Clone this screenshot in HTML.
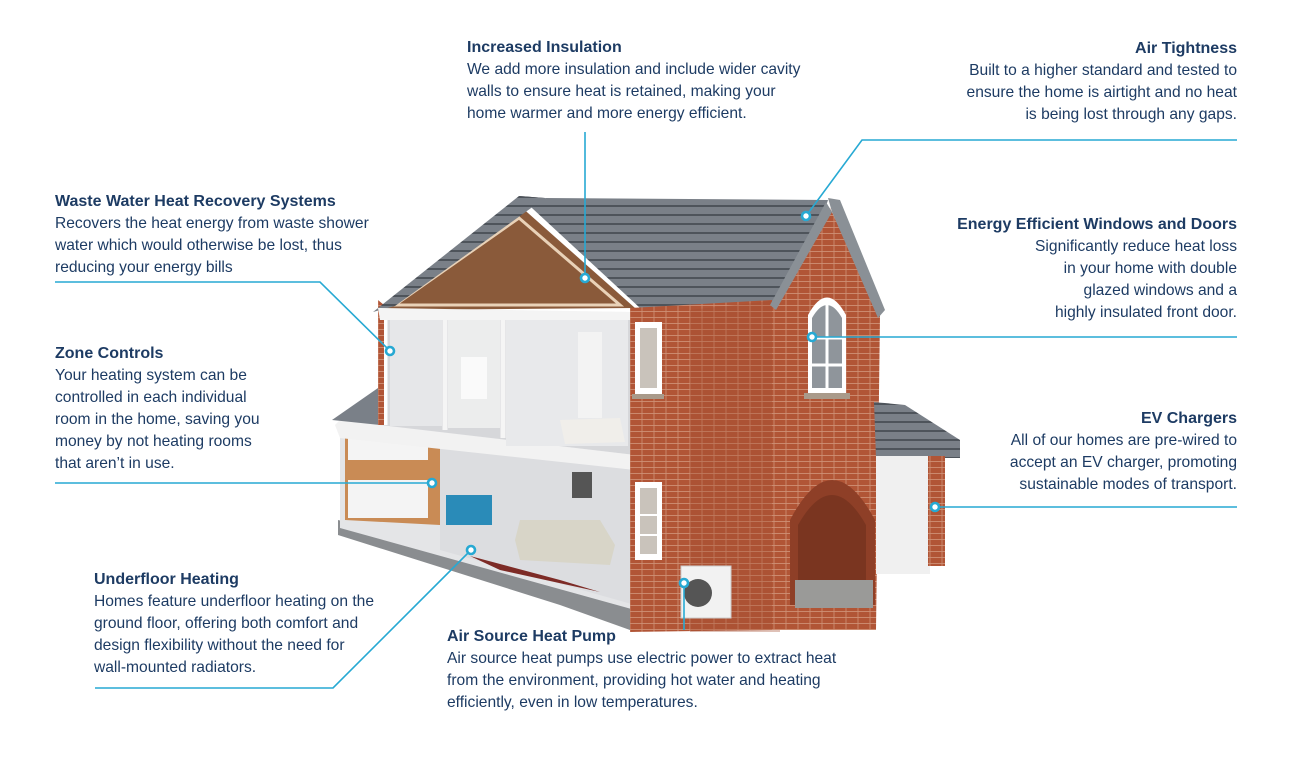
<!DOCTYPE html>
<html><head><meta charset="utf-8"><style>
body{margin:0;background:#fff;}
#c{position:relative;width:1305px;height:778px;overflow:hidden;font-family:"Liberation Sans",sans-serif;color:#1d3b63;}
.t{position:absolute;font-size:15.6px;line-height:22px;white-space:nowrap;}
.t b{font-size:16px;}
.r{text-align:right;}
svg{position:absolute;left:0;top:0;}
</style></head><body><div id="c">
<svg width="1305" height="778" viewBox="0 0 1305 778">
<defs>
<pattern id="br" width="12" height="6" patternUnits="userSpaceOnUse">
<rect width="12" height="6" fill="#b15536"/>
<path d="M0 5.5H12M6 0V5.5" stroke="#d49a80" stroke-width="0.7"/>
</pattern>
<pattern id="tl" width="20" height="9" patternUnits="userSpaceOnUse">
<rect width="20" height="9" fill="#7a8088"/>
<path d="M0 8H20" stroke="#3f454c" stroke-width="1.4"/>
</pattern>
</defs>
<polygon points="338,520 338,535 560,605 630,630 630,600 560,575" fill="#8a8d90"/>
<polygon points="340,428 635,465 635,610 340,528" fill="#e4e5e7"/>
<polygon points="345,432 440,445 440,525 345,520" fill="#c98b55"/>
<rect x="348" y="430" width="80" height="30" fill="#f4f4f4"/>
<rect x="348" y="480" width="80" height="38" fill="#f4f4f4"/>
<polygon points="440,445 635,470 635,605 440,550" fill="#dcdde0"/>
<rect x="446" y="495" width="46" height="30" fill="#2a8bb8"/>
<polygon points="515,540 520,520 600,520 615,545 610,565 520,560" fill="#d8d5c8"/>
<rect x="572" y="472" width="20" height="26" fill="#555"/>
<polygon points="470,556 560,580 600,592 500,570" fill="#7d2b26"/>
<polygon points="335,425 340,420 635,455 635,470 340,438" fill="#f2f2f2"/>
<polygon points="380,310 635,315 635,455 380,425" fill="#d6d7da"/>
<rect x="390" y="318" width="52" height="108" fill="#e6e7e9"/>
<rect x="448" y="318" width="52" height="110" fill="#eceded"/>
<rect x="506" y="318" width="122" height="128" fill="#e8e9eb"/>
<rect x="461" y="357" width="26" height="42" fill="#fafafa"/>
<polygon points="560,420 620,418 625,442 565,444" fill="#f0eeea"/>
<rect x="578" y="332" width="24" height="86" fill="#f3f3f3"/>
<line x1="385" y1="312" x2="385" y2="425" stroke="#fff" stroke-width="5"/>
<line x1="445" y1="314" x2="445" y2="430" stroke="#f5f5f5" stroke-width="5"/>
<line x1="503" y1="314" x2="503" y2="438" stroke="#f5f5f5" stroke-width="5"/>
<polygon points="332,420 378,388 380,425" fill="#7a8088"/>
<polygon points="378,300 378,425 384,425 384,305" fill="url(#br)"/>
<polygon points="382,310 519,205 635,308" fill="#8a5a3a"/>
<polygon points="395,305 519,218 620,305" fill="none" stroke="#e9d2b8" stroke-width="3"/>
<polygon points="373,312 519,196 545,198 395,306" fill="url(#tl)"/>
<polygon points="519,196 545,198 660,300 640,308" fill="url(#tl)"/>
<polygon points="378,308 640,312 640,320 380,320" fill="#f4f4f4"/>
<polygon points="545,198 828,200 795,300 640,308" fill="url(#tl)"/>
<polygon points="630,308 772,300 772,630 630,632" fill="url(#br)"/>
<polygon points="690,310 780,300 780,632 690,632" fill="#a44d30" opacity="0.35"/>
<polygon points="772,303 830,208 880,315 876,630 772,630" fill="url(#br)"/>
<polygon points="828,198 840,200 885,310 878,318 832,212" fill="#8a9096"/>
<polygon points="770,305 826,202 832,212 776,310" fill="#8a9096"/>
<path d="M808 393V315Q827 280 846 315V393Z" fill="#fff"/>
<path d="M812 388V318Q827 292 842 318V388Z" fill="#8f959b"/>
<path d="M812 338H842M827 300V388M812 365H842" stroke="#fff" stroke-width="3"/>
<rect x="804" y="393" width="46" height="6" fill="#a99a8a"/>
<rect x="635" y="322" width="27" height="72" fill="#fff"/>
<rect x="640" y="328" width="17" height="60" fill="#c9c3bb"/>
<rect x="632" y="394" width="32" height="5" fill="#a99a8a"/>
<rect x="635" y="482" width="27" height="78" fill="#fff"/>
<rect x="640" y="488" width="17" height="66" fill="#c9c3bb"/>
<path d="M640 515H657M640 535H657" stroke="#fff" stroke-width="2"/>
<path d="M790 605V520Q832 440 875 520V605Z" fill="#8e3f27"/>
<path d="M798 605V525Q832 465 866 525V605Z" fill="#7a3520"/>
<rect x="795" y="580" width="78" height="28" fill="#9a9a98"/>
<polygon points="874,402 905,405 960,440 960,458 876,458" fill="url(#tl)"/>
<rect x="876" y="456" width="54" height="118" fill="#f0f0f0"/>
<rect x="928" y="456" width="17" height="110" fill="url(#br)"/>
<rect x="681" y="566" width="50" height="52" fill="#f2f2f2" stroke="#ccc"/>
<circle cx="698" cy="593" r="14" fill="#555"/>
<g stroke="#27a9d3" stroke-width="1.6" fill="none">
<path d="M585 132V274"/>
<path d="M1237 140H862L809 212"/>
<path d="M55 282H320L387 348"/>
<path d="M1237 337H816"/>
<path d="M55 483H428"/>
<path d="M1237 507H939"/>
<path d="M95 688H333L468 553"/>
<path d="M684 587V630"/>
</g>
<g stroke="#27a9d3" stroke-width="2.6" fill="#fff">
<circle cx="585" cy="278" r="4"/>
<circle cx="806" cy="216" r="4"/>
<circle cx="390" cy="351" r="4"/>
<circle cx="812" cy="337" r="4"/>
<circle cx="432" cy="483" r="4"/>
<circle cx="935" cy="507" r="4"/>
<circle cx="471" cy="550" r="4"/>
<circle cx="684" cy="583" r="4"/>
</g>
</svg>

<div class="t" style="left:467px;top:37px"><b>Increased Insulation</b><br>We add more insulation and include wider cavity<br>walls to ensure heat is retained, making your<br>home warmer and more energy efficient.</div>
<div class="t r" style="right:68px;top:38px"><b>Air Tightness</b><br>Built to a higher standard and tested to<br>ensure the home is airtight and no heat<br>is being lost through any gaps.</div>
<div class="t" style="left:55px;top:191px"><b>Waste Water Heat Recovery Systems</b><br>Recovers the heat energy from waste shower<br>water which would otherwise be lost, thus<br>reducing your energy bills</div>
<div class="t r" style="right:68px;top:214px"><b>Energy Efficient Windows and Doors</b><br>Significantly reduce heat loss<br>in your home with double<br>glazed windows and a<br>highly insulated front door.</div>
<div class="t" style="left:55px;top:343px"><b>Zone Controls</b><br>Your heating system can be<br>controlled in each individual<br>room in the home, saving you<br>money by not heating rooms<br>that aren’t in use.</div>
<div class="t r" style="right:68px;top:408px"><b>EV Chargers</b><br>All of our homes are pre-wired to<br>accept an EV charger, promoting<br>sustainable modes of transport.</div>
<div class="t" style="left:94px;top:569px"><b>Underfloor Heating</b><br>Homes feature underfloor heating on the<br>ground floor, offering both comfort and<br>design flexibility without the need for<br>wall-mounted radiators.</div>
<div class="t" style="left:447px;top:626px"><b>Air Source Heat Pump</b><br>Air source heat pumps use electric power to extract heat<br>from the environment, providing hot water and heating<br>efficiently, even in low temperatures.</div>
</div></body></html>
